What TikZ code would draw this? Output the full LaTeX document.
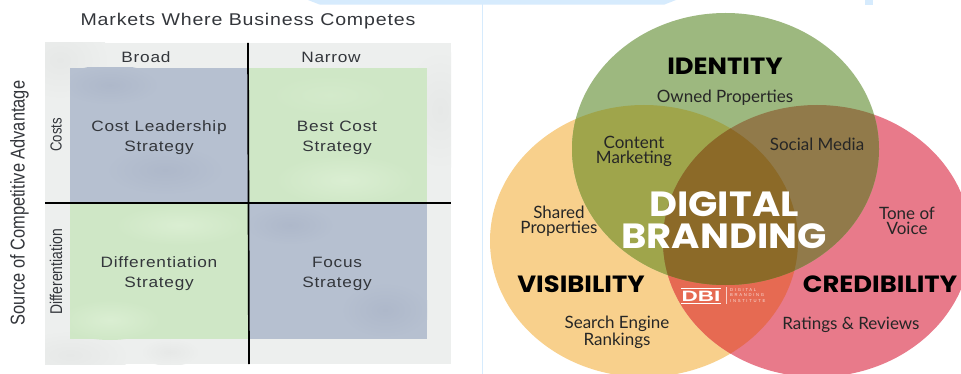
\documentclass[tikz,border=0pt]{standalone}
\usepackage{fontspec}
\setmainfont{Liberation Sans}
\newfontfamily\quadfont[LetterSpace=5,FakeStretch=1.15]{Liberation Sans}
\newfontfamily\condfont[FakeStretch=0.82]{Liberation Sans}
\newfontfamily\labfont{Lato}
\newfontfamily\headfont[FakeStretch=1.1]{Poppins Bold}
\newfontfamily\tinyfont[LetterSpace=40]{Liberation Sans}
\newfontfamily\logofont[FakeStretch=1.5]{Liberation Sans Bold}
\definecolor{txtq}{HTML}{33363B}
\definecolor{marble}{HTML}{EDEFEE}
\definecolor{marbleb}{HTML}{E6E8E7}
\definecolor{slatebox}{HTML}{B6C0D0}
\definecolor{slateb}{HTML}{AEB8CA}
\definecolor{greenbox}{HTML}{CFE7C6}
\definecolor{greenb}{HTML}{DAEED2}
\definecolor{topblue}{HTML}{D6EBFD}
\definecolor{vgreen}{HTML}{9DB87F}
\definecolor{vorange}{HTML}{F8D08C}
\definecolor{vred}{HTML}{E87A8A}
\definecolor{vgo}{HTML}{9FA54B}
\definecolor{vgr}{HTML}{917A4A}
\definecolor{vor}{HTML}{E66A52}
\definecolor{vall}{HTML}{8C6A28}
\tikzset{
  qlabel/.style={font=\quadfont\fontsize{15}{20}\selectfont,text=txtq,align=center,inner sep=0pt},
  axislabel/.style={font=\condfont\fontsize{16}{18}\selectfont,text=txtq,rotate=90,inner sep=0pt},
  vlabel/.style={font=\labfont\fontsize{17}{15}\selectfont,text=black!85,align=center,inner sep=0pt},
  vhead/.style={font=\headfont\fontsize{23.5}{26}\selectfont,text=black,inner sep=0pt},
  axisline/.style={line width=1.7pt,black},
}
\begin{document}
\begin{tikzpicture}[x=1pt,y=-1pt]
\useasboundingbox (0,0) rectangle (961,374);
\clip (0,0) rectangle (961,374);
\fill[white] (0,0) rectangle (961,374);
% top strip and divider
\fill[topblue] (308,0) -- (320,4.7) -- (664,4.7) -- (676,0) -- cycle;
\fill[topblue] (865,0) rectangle (873,4.7);
\fill[topblue] (482,4) rectangle (483.2,374);
% quadrant panel
\fill[marble] (45,43) rectangle (451,364);
\begin{scope}
\clip (45,43) rectangle (451,364);
\shade[inner color=marbleb,outer color=marble] (60,60) ellipse [x radius=50,y radius=40];
\shade[inner color=marbleb,outer color=marble] (440,110) ellipse [x radius=40,y radius=60];
\shade[inner color=marbleb,outer color=marble] (70,355) ellipse [x radius=60,y radius=25];
\shade[inner color=marbleb,outer color=marble] (170,352) ellipse [x radius=30,y radius=14];
\end{scope}
\fill[slatebox] (70,68) rectangle (248,203);
\fill[slatebox] (248,203) rectangle (427,339);
\fill[greenbox] (248,68) rectangle (427,203);
\fill[greenbox] (70,203) rectangle (248,339);
\begin{scope}
\clip (70,68) rectangle (248,203);
\shade[inner color=slateb,outer color=slatebox] (110,85) ellipse [x radius=50,y radius=20];
\shade[inner color=slateb,outer color=slatebox] (165,170) ellipse [x radius=60,y radius=25];
\end{scope}
\begin{scope}
\clip (248,203) rectangle (427,339);
\shade[inner color=slateb,outer color=slatebox] (290,225) ellipse [x radius=45,y radius=20];
\shade[inner color=slateb,outer color=slatebox] (385,310) ellipse [x radius=45,y radius=28];
\end{scope}
\begin{scope}
\clip (248,68) rectangle (427,203);
\shade[inner color=greenb,outer color=greenbox] (345,180) ellipse [x radius=70,y radius=25];
\shade[inner color=greenb!40!greenbox,outer color=greenbox] (330,95) ellipse [x radius=60,y radius=20];
\end{scope}
\begin{scope}
\clip (70,203) rectangle (248,339);
\shade[inner color=greenb,outer color=greenbox] (180,225) ellipse [x radius=65,y radius=20];
\shade[inner color=greenb,outer color=greenbox] (110,320) ellipse [x radius=50,y radius=20];
\end{scope}
\node[qlabel] (broad) at (146,57) {Broad};
\node[qlabel] (narrow) at (331,57) {Narrow};
\node[qlabel,font=\quadfont\fontsize{17}{20}\selectfont] (title) at (248,21) {Markets Where Business Competes};
\node[qlabel] (cl) at (159,137.5) {Cost Leadership\\Strategy};
\node[qlabel] (bc) at (337,138) {Best Cost\\Strategy};
\node[qlabel] (ds) at (159,273.5) {Differentiation\\Strategy};
\node[qlabel] (fs) at (337,273.5) {Focus\\Strategy};
\node[axislabel] (costs) at (56,135) {Costs};
\node[axislabel,font=\condfont\fontsize{17}{19}\selectfont] (diff) at (56,272) {Differentiation};
\node[axislabel,font=\condfont\fontsize{20}{22}\selectfont] (src) at (19.5,203) {Source of Competitive Advantage};
\draw[axisline] (248,43) -- (249,364);
\draw[axisline] (45,203) -- (451,203);
% venn
\def\vg{(725.5,149) ellipse [x radius=153.5,y radius=136]}
\def\vo{(644,241) ellipse [x radius=154,y radius=136]}
\def\vr{(817,241) ellipse [x radius=154,y radius=136]}
\fill[vorange] \vo;
\fill[vred] \vr;
\fill[vgreen] \vg;
\begin{scope}\clip \vo; \fill[vor] \vr; \fill[vgo] \vg; \end{scope}
\begin{scope}\clip \vr; \fill[vgr] \vg; \end{scope}
\begin{scope}\clip \vo; \clip \vr; \fill[vall] \vg; \end{scope}
\node[vhead] (identity) at (725,66) {IDENTITY};
\node[vhead] (visibility) at (581,284) {VISIBILITY};
\node[vhead] (cred) at (880,284) {CREDIBILITY};
\node[vlabel] (owned) at (725,98) {Owned Properties};
\node[vlabel] (content) at (634,151) {Content\\Marketing};
\node[vlabel] (social) at (817,144) {Social Media};
\node[vlabel] (shared) at (559,221) {Shared\\Properties};
\node[vlabel] (tone) at (907,221) {Tone of\\Voice};
\node[vlabel] (search) at (617,332) {Search Engine\\Rankings};
\node[vlabel] (ratings) at (851,325) {Ratings \& Reviews};
\node[font=\headfont\fontsize{35}{32}\selectfont,text=white,align=center,inner sep=0pt] (db) at (724,220) {DIGITAL\\BRANDING};
% logo
\draw[white,line width=.8pt] (681,288) -- (721,288) (681,303.5) -- (721,303.5);
\node[inner sep=0pt,text=white,font=\logofont\fontsize{15}{15}\selectfont] (dbi) at (701,296) {DBI};
\draw[white!70!vor,line width=.5pt] (726,287) -- (726,304);
\node[anchor=west,inner sep=0pt,text=white!80!vor,align=left,font=\tinyfont\fontsize{4.2}{5.6}\selectfont] (inst) at (730,295.5) {DIGITAL\\BRANDING\\INSTITUTE};
\end{tikzpicture}
\end{document}
